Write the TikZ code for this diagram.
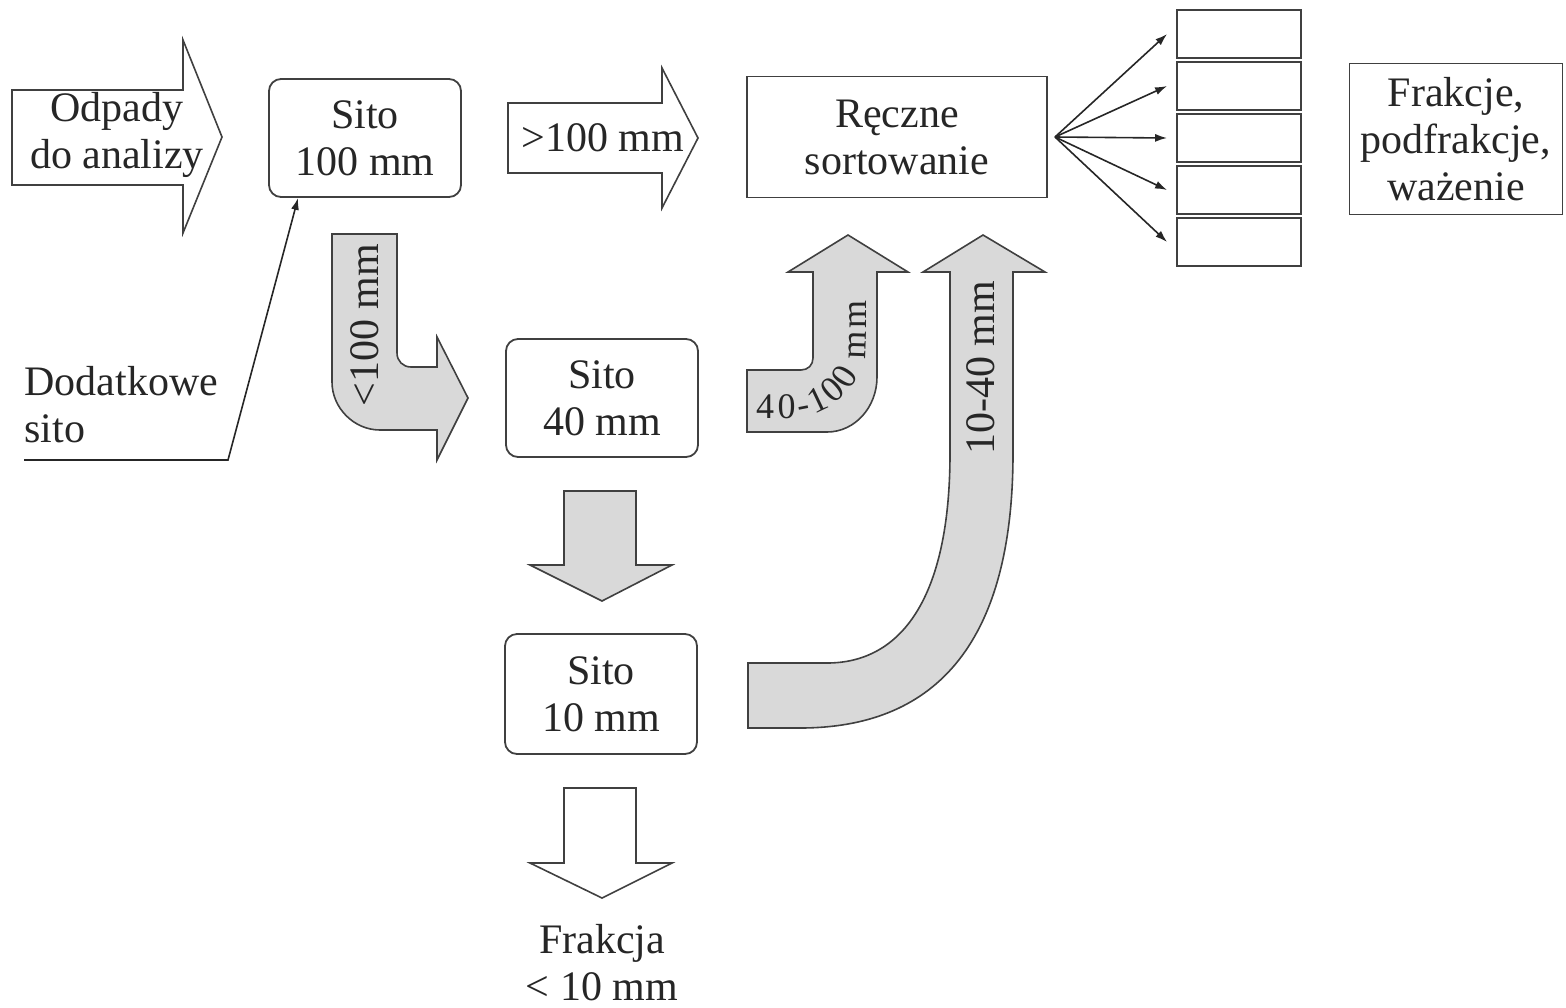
\documentclass[tikz,border=0pt]{standalone}
\usepackage{fontspec}
\setmainfont{Liberation Serif}
\usetikzlibrary{
  calc,positioning,
  arrows.meta,
  decorations.text
}

\begin{document}
\begin{tikzpicture}[x=0.5pt,y=-0.5pt,
  txt/.style={font=\fontsize{21}{23.5}\selectfont,text=black!85,align=center,inner sep=0pt},
  sito/.style={txt,draw=black!75,line width=0.9pt,rounded corners=6pt,minimum width=96pt,minimum height=59pt},
  plainbox/.style={txt,draw=black!75,line width=0.9pt},
  bin/.style={draw=black!75,line width=0.9pt,minimum width=62pt,minimum height=24pt,inner sep=0pt},
  outarrow/.style={draw=black!75,line width=0.8pt,fill=white},
  grayarrow/.style={draw=black!75,line width=0.8pt,fill=black!15},
  feedline/.style={draw=black!85,line width=0.8pt,-{Latex[length=6pt,width=4pt]}}
]
\useasboundingbox (0,0) rectangle (1566,1007);

% boxes
\node[sito] (sito100) at (365,138) {Sito\\100 mm};
\node[sito] (sito40) at (602,398) {Sito\\40 mm};
\node[sito,minimum height=60pt] (sito10) at (601,694) {Sito\\10 mm};
\node[plainbox,minimum width=150pt,minimum height=60.5pt] (reczne) at (897,137) {Ręczne\\sortowanie};
\node[plainbox,minimum width=106.5pt,minimum height=75.5pt] (frakcje) at (1456,139) {Frakcje,\\podfrakcje,\\ważenie};

% input arrows
\draw[outarrow] (12,90) -- (183,90) -- (183,40) -- (222,137) -- (183,233) -- (183,185) -- (12,185) -- cycle;
\node[txt] (odpady) at (117,135) {Odpady\\do analizy};
\draw[outarrow] (508,103) -- (662,103) -- (662,68) -- (698,138) -- (662,208) -- (662,173) -- (508,173) -- cycle;
\node[txt] (gt100) at (603,138) {>100 mm};

% extra sieve
\node[txt,align=left,anchor=west] (dodatkowe) at (24,405) {Dodatkowe\\sito};
\coordinate (feed) at (24,460);
\coordinate (bend) at (228,460);
\draw[feedline] (feed) -- (bend) -- ([xshift=15pt]sito100.south west);

% <100 mm
\draw[grayarrow] (332,234) -- (397,234) -- (397,353) .. controls (397,361) and (403,367) .. (411,367)
  -- (437,367) -- (437,337) -- (468,398) -- (437,460) -- (437,430) -- (380,430)
  .. controls (354,430) and (332,408) .. (332,382) -- cycle;
\node[txt,rotate=90] (lt100) at (365,325) {<100 mm};

% 40-100 mm
\draw[grayarrow] (747,370) -- (801,370) .. controls (808,370) and (813,365) .. (813,358) -- (813,272)
  -- (788,272) -- (848,235) -- (908,272) -- (877,272) -- (877,377)
  .. controls (877,407) and (855,432) .. (827,432) -- (747,432) -- cycle;
\path[decorate,decoration={text along path,text align={fit to path},
  text={|\fontsize{18}{21}\selectfont\color{black!85}|40-100 mm}}]
  (756,418) -- (791,418) .. controls (832,418) and (866,384) .. (866,343) -- (866,300);

% 10-40 mm
\draw[grayarrow] (748,663) -- (827,663) .. controls (900,663) and (950,600) .. (950,453) -- (950,272)
  -- (923,272) -- (983,235) -- (1045,272) -- (1013,272) -- (1013,453)
  .. controls (1013,650) and (930,728) .. (800,728) -- (748,728) -- cycle;
\node[txt,rotate=90] (s1040) at (981,368) {10-40 mm};

% down arrows
\draw[grayarrow] (564,491) -- (636,491) -- (636,565) -- (672,565) -- (602,601) -- (530,565) -- (564,565) -- cycle;
\draw[outarrow] (564,788) -- (636,788) -- (636,863) -- (672,863) -- (602,898) -- (530,863) -- (564,863) -- cycle;
\node[txt] (frakcja) at (602,963) {Frakcja\\< 10 mm};

% fractions
\coordinate (hub) at (1055,137);
\foreach \i in {1,...,5}{
  \node[bin] (bin\i) at (1239,{34+52*(\i-1)}) {};
  \draw[feedline] (hub) -- ([xshift=-4.5pt]bin\i.west);
}
\end{tikzpicture}
\end{document}
